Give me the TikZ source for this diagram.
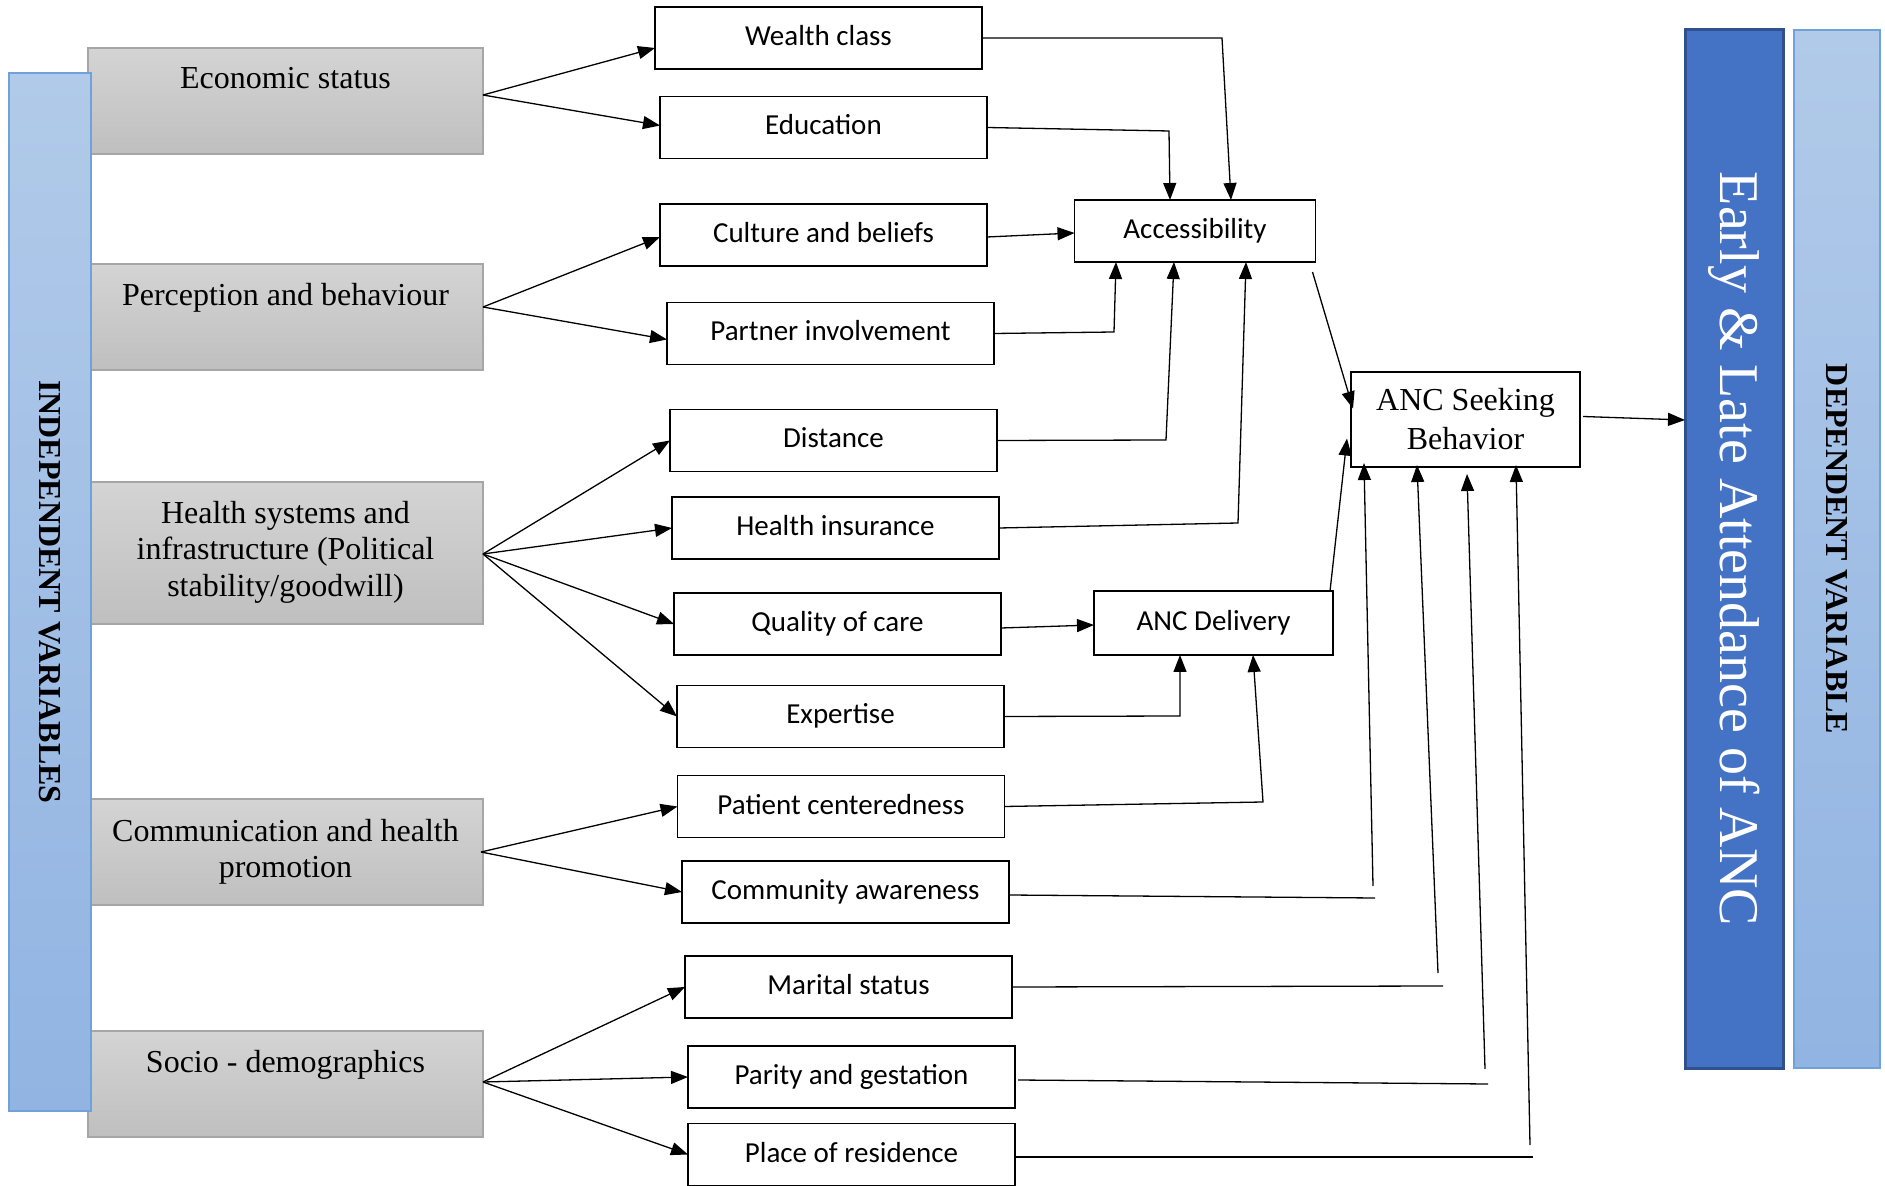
\documentclass[tikz,border=0pt]{standalone}
\usepackage{graphicx}
\usepackage{fontspec}
\setmainfont{Liberation Serif}
\newfontfamily\calfont{Carlito}
\usetikzlibrary{arrows.meta,calc}
\definecolor{grayTop}{HTML}{D4D4D4}
\definecolor{grayBot}{HTML}{BFBFBF}
\definecolor{grayLine}{HTML}{A6A6A6}
\definecolor{blueTop}{HTML}{B1CAE9}
\definecolor{blueBot}{HTML}{91B4E2}
\definecolor{blueLine}{HTML}{6FA2DA}
\definecolor{ancBlue}{HTML}{4472C4}
\definecolor{ancLine}{HTML}{2F528F}
\begin{document}
\begin{tikzpicture}[x=0.5pt,y=-0.5pt,
  every node/.style={inner sep=0pt, outer sep=0pt},
  con/.style={line width=0.65pt},
  arr/.style={con,-{Triangle[length=8.5pt,width=6.5pt]}},
  factor/.style={draw=grayLine, line width=0.6pt, top color=grayTop, bottom color=grayBot, minimum width=197.5pt},
  ftext/.style={anchor=north, align=center, font=\fontsize{16}{18.25}\selectfont},
  mbox/.style={draw, line width=0.7pt, minimum width=163.5pt, minimum height=31pt, text height=10.5pt, text depth=3pt, font=\calfont\fontsize{14.5}{17}\selectfont},
  vbar/.style={draw=blueLine, line width=0.8pt, top color=blueTop, bottom color=blueBot, minimum height=519pt, font=\bfseries\fontsize{16}{18}\selectfont}
]
\useasboundingbox (0,0) rectangle (1885,1186);

% factor boxes
\node[factor, minimum height=53pt] (econ) at (285.5,101) {};
\node[ftext] (econT) at ($(econ.north)+(0,19)$) {Economic status};
\node[factor, minimum height=53pt] (perc) at (285.5,317) {};
\node[ftext] (percT) at ($(perc.north)+(0,19)$) {Perception and behaviour};
\node[factor, minimum height=71pt] (health) at (285.5,553) {};
\node[ftext] (healthT) at ($(health.north)+(0,19)$) {Health systems and\\infrastructure (Political\\stability/goodwill)};
\node[factor, minimum height=53pt] (comm) at (285.5,852) {};
\node[ftext] (commT) at ($(comm.north)+(0,20)$) {Communication and health\\promotion};
\node[factor, minimum height=53pt] (socio) at (285.5,1084) {};
\node[ftext] (socioT) at ($(socio.north)+(0,19)$) {Socio - demographics};

% left bar
\node[vbar, minimum width=41pt] (indep) at (50,592) {\rotatebox{-90}{INDEPENDENT VARIABLES}};

% middle boxes
\node[mbox] (wealth) at (818.5,38) {Wealth class};
\node[mbox] (educ) at (823.5,127.5) {Education};
\node[mbox] (culture) at (823.5,235) {Culture and beliefs};
\node[mbox] (partner) at (830.5,333.5) {Partner involvement};
\node[mbox] (distance) at (833.5,440.5) {Distance};
\node[mbox] (insurance) at (835.5,528) {Health insurance};
\node[mbox] (quality) at (837.5,624) {Quality of care};
\node[mbox] (expertise) at (840.5,716.5) {Expertise};
\node[mbox] (patient) at (841,806.5) {Patient centeredness};
\node[mbox] (community) at (845.5,892) {Community awareness};
\node[mbox] (marital) at (848.5,987) {Marital status};
\node[mbox] (parity) at (851.5,1077) {Parity and gestation};
\node[mbox] (place) at (851.5,1154.5) {Place of residence};

\node[mbox, minimum width=120.5pt] (acc) at (1195,231) {Accessibility};
\node[mbox, minimum width=119.5pt, minimum height=32pt] (delivery) at (1213.5,623) {ANC Delivery};
\node[draw, line width=0.7pt, minimum width=114.5pt, minimum height=47.5pt, align=center, font=\fontsize{16}{19.5}\selectfont] (seek) at (1465.5,419.5) {ANC Seeking\\Behavior};

% right bars
\node[draw=ancLine, line width=1.5pt, fill=ancBlue, text=white, minimum height=519pt, minimum width=49pt, font=\fontsize{28}{30}\selectfont] (early) at (1734,549) {\rotatebox{-90}{Early \& Late Attendance of ANC}};
\node[vbar, minimum width=43pt] (dep) at (1837,549) {\rotatebox{-90}{DEPENDENT VARIABLE}};

% left fans
\draw[arr] ($(econ.east)+(0,-6)$) -- ($(wealth.west)+(0,10)$);
\draw[arr] ($(econ.east)+(0,-6)$) -- ($(educ.west)+(0,-2)$);
\draw[arr] ($(perc.east)+(0,-10)$) -- ($(culture.west)+(0,2)$);
\draw[arr] ($(perc.east)+(0,-10)$) -- ($(partner.west)+(0,6)$);
\draw[arr] ($(health.east)+(0,1)$) -- (distance.west);
\draw[arr] ($(health.east)+(0,1)$) -- (insurance.west);
\draw[arr] ($(health.east)+(0,1)$) -- (quality.west);
\draw[arr] ($(health.east)+(0,1)$) -- (expertise.west);
\draw[arr] ($(comm.east)+(-2,0)$) -- (patient.west);
\draw[arr] ($(comm.east)+(-2,0)$) -- (community.west);
\draw[arr] ($(socio.east)+(0,-2)$) -- (marital.west);
\draw[arr] ($(socio.east)+(0,-2)$) -- (parity.west);
\draw[arr] ($(socio.east)+(0,-2)$) -- (place.west);

% into Accessibility
\draw[arr] (wealth.east) -- (1222,38) -- ($(acc.north)+(36,0)$);
\draw[arr] (educ.east) -- (1169,131) -- ($(acc.north)+(-25,0)$);
\draw[arr] ($(culture.east)+(0,2)$) -- ($(acc.west)+(0,2)$);
\draw[arr] (partner.east) -- (1114,332) -- ($(acc.south)+(-79,0)$);
\draw[arr] (distance.east) -- (1166,440) -- ($(acc.south)+(-21,0)$);
\draw[arr] (insurance.east) -- (1238,523) -- ($(acc.south)+(51,0)$);

% into ANC Delivery
\draw[arr] ($(quality.east)+(0,4)$) -- ($(delivery.west)+(0,2)$);
\draw[arr] (expertise.east) -- (1180,716) -- ($(delivery.south)+(-33.5,0)$);
\draw[arr] (patient.east) -- (1263,802) -- ($(delivery.south)+(39.5,0)$);

% into ANC Seeking Behavior
\draw[arr] ($(acc.south east)+(-3,10)$) -- ($(seek.west)+(2,-11)$);
\draw[arr] ($(delivery.north east)+(-3,0)$) -- ($(seek.west)+(-4,19)$);

\coordinate (comH) at (1375,898);
\coordinate (comV) at (1373,886);
\draw[con] ($(community.east)+(0,3)$) -- (comH);
\draw[arr] (comV) -- ($(seek.south west)+(13,-4)$);

\coordinate (marH) at (1443,986);
\coordinate (marV) at (1438,973);
\draw[con] (marital.east) -- (marH);
\draw[arr] (marV) -- ($(seek.south west)+(66,-2)$);

\coordinate (parH) at (1488,1084);
\coordinate (parV) at (1485,1069);
\draw[con] ($(parity.east)+(3,3)$) -- (parH);
\draw[arr] (parV) -- ($(seek.south west)+(116,7)$);

\coordinate (plaH) at (1533,1157);
\coordinate (plaV) at (1530,1145);
\draw[con] ($(place.east)+(0,2.5)$) -- (plaH);
\draw[arr] (plaV) -- ($(seek.south west)+(165,-2)$);

% to outcome
\draw[arr] ($(seek.east)+(3,-3)$) -- ($(early.west)+(0,-129)$);
\end{tikzpicture}
\end{document}
